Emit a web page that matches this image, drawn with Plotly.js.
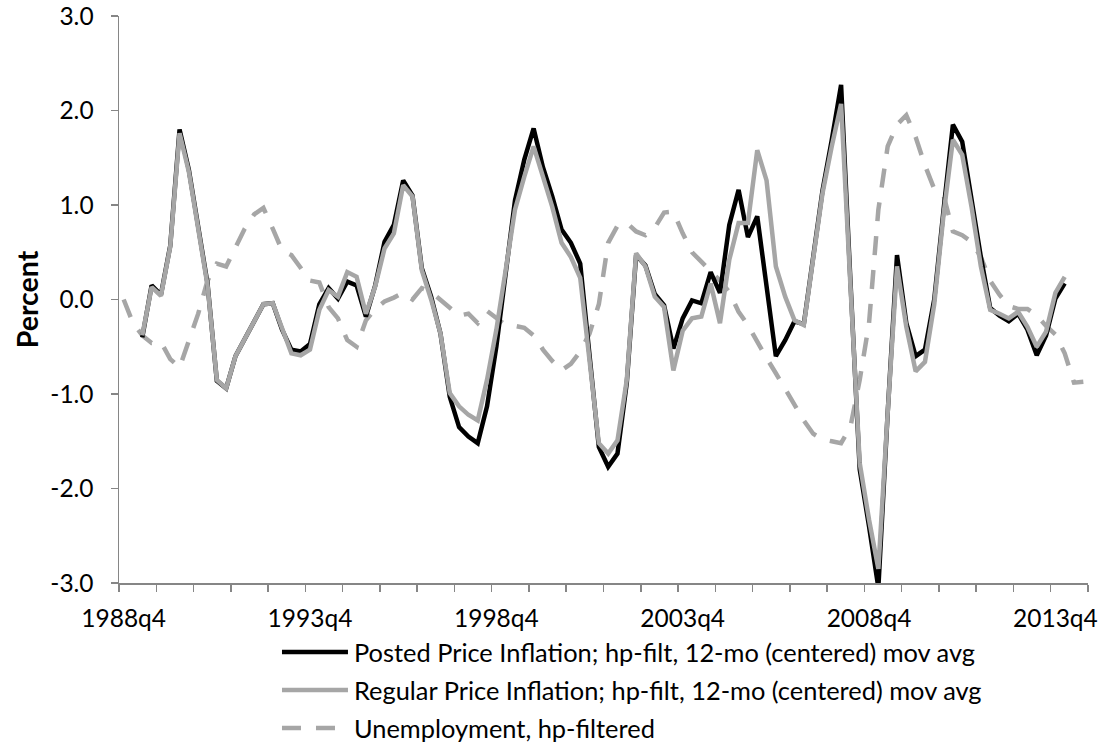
<!DOCTYPE html>
<html>
<head>
<meta charset="utf-8">
<script src="https://cdn.plot.ly/plotly-3.0.1.min.js"></script>
<style>html,body{margin:0;padding:0;background:#fff;}#chart{width:1101px;height:742px;}</style>
</head>
<body>
<div id="chart"></div>
<script>
// Quarterly categories, 1988q4 .. 2014q3
const quarters = [];
for (let i = 0; i < 104; i++) {
  const m = 3 + i; // quarter number counted from 1988q1 (index 3 = q4)
  quarters.push((1988 + Math.floor(m / 4)) + 'q' + (m % 4 + 1));
}

const seriesNames = [
  'Posted Price Inflation; hp-filt, 12-mo (centered) mov avg',
  'Regular Price Inflation; hp-filt, 12-mo (centered) mov avg',
  'Unemployment, hp-filtered'
];

const postedInflation = [
  null, null, -0.40, 0.15, 0.05, 0.57, 1.80, 1.37, 0.77, 0.17,
  -0.86, -0.94, -0.60, -0.42, -0.25, -0.05, -0.04, -0.32, -0.53, -0.55,
  -0.47, -0.05, 0.12, 0.01, 0.19, 0.15, -0.18, 0.15, 0.61, 0.79,
  1.26, 1.10, 0.33, 0.03, -0.36, -1.03, -1.35, -1.45, -1.52, -1.13,
  -0.50, 0.28, 1.05, 1.48, 1.81, 1.40, 1.09, 0.74, 0.60, 0.38,
  -0.60, -1.56, -1.77, -1.63, -0.88, 0.47, 0.36, 0.06, -0.06, -0.52,
  -0.20, -0.01, -0.04, 0.29, 0.07, 0.79, 1.16, 0.66, 0.88, 0.17,
  -0.60, -0.43, -0.23, -0.26, 0.45, 1.15, 1.69, 2.27, 0.20, -1.80,
  -2.40, -3.05, -1.20, 0.47, -0.25, -0.60, -0.53, 0.00, 0.95, 1.85,
  1.67, 1.05, 0.45, -0.09, -0.17, -0.23, -0.15, -0.32, -0.59, -0.38,
  0.01, 0.17, null, null
];

const regularInflation = [
  null, null, -0.38, 0.13, 0.04, 0.56, 1.76, 1.35, 0.75, 0.15,
  -0.85, -0.94, -0.60, -0.42, -0.25, -0.05, -0.04, -0.32, -0.57, -0.59,
  -0.53, -0.11, 0.10, 0.03, 0.29, 0.24, -0.15, 0.14, 0.54, 0.70,
  1.21, 1.09, 0.31, 0.00, -0.36, -0.99, -1.13, -1.22, -1.28, -0.85,
  -0.32, 0.31, 0.95, 1.30, 1.62, 1.30, 0.98, 0.60, 0.45, 0.23,
  -0.60, -1.52, -1.63, -1.49, -0.85, 0.49, 0.35, 0.03, -0.08, -0.75,
  -0.33, -0.20, -0.18, 0.17, -0.25, 0.42, 0.81, 0.81, 1.58, 1.26,
  0.35, 0.03, -0.22, -0.27, 0.43, 1.12, 1.62, 2.07, 0.15, -1.73,
  -2.33, -2.85, -1.20, 0.35, -0.29, -0.76, -0.66, -0.05, 0.90, 1.69,
  1.53, 0.98, 0.35, -0.11, -0.15, -0.20, -0.13, -0.29, -0.50, -0.34,
  0.07, 0.24, null, null
];

const unemployment = [
  0.00, -0.25, -0.38, -0.46, -0.45, -0.63, -0.72, -0.42, -0.15, 0.20,
  0.38, 0.35, 0.55, 0.75, 0.90, 0.97, 0.75, 0.52, 0.47, 0.33,
  0.20, 0.18, -0.08, -0.20, -0.43, -0.50, -0.22, -0.10, -0.02, 0.02,
  0.07, 0.00, 0.12, 0.08, 0.00, -0.08, -0.17, -0.15, -0.25, -0.12,
  -0.20, -0.27, -0.28, -0.30, -0.38, -0.53, -0.65, -0.75, -0.68, -0.55,
  -0.36, -0.05, 0.60, 0.78, 0.81, 0.72, 0.68, 0.76, 0.92, 0.93,
  0.70, 0.50, 0.40, 0.30, 0.20, 0.08, -0.13, -0.27, -0.45, -0.62,
  -0.78, -0.95, -1.10, -1.28, -1.42, -1.48, -1.50, -1.52, -1.35, -0.85,
  -0.25, 0.95, 1.62, 1.85, 1.95, 1.72, 1.42, 1.17, 1.10, 0.72,
  0.68, 0.61, 0.45, 0.20, 0.05, -0.07, -0.10, -0.10, -0.17, -0.28,
  -0.37, -0.57, -0.88, -0.87
];

const xLabelQuarters = ['1988q4', '1993q4', '1998q4', '2003q4', '2008q4', '2013q4'];
const yTickValues = [-3, -2, -1, 0, 1, 2, 3];
const yTickLabels = ['-3.0', '-2.0', '-1.0', '0.0', '1.0', '2.0', '3.0'];

const xIdx = quarters.map((_, i) => i);
const FONT = 'Lato, Carlito, Calibri, sans-serif';
const AX = '#868686';
const GREY = '#a6a6a6';

const styles = [
  {color: '#000000', width: 4.5, dash: 'solid'},
  {color: GREY, width: 4.5, dash: 'solid'},
  {color: GREY, width: 4.5, dash: '19px,15px'}
];
const seriesData = [postedInflation, regularInflation, unemployment];

const traces = seriesData.map((ys, s) => ({
  type: 'scatter', mode: 'lines', x: xIdx, y: ys, name: seriesNames[s],
  line: styles[s], connectgaps: false, hoverinfo: 'x+y', showlegend: false
}));
const ordered = [traces[2], traces[0], traces[1]];

// Legend drawn as shapes + annotations to match the Excel-style long legend keys
const legendRowsY = [-0.1216, -0.1886, -0.2556];
const shapes = styles.map((st, s) => ({
  type: 'line', xref: 'paper', yref: 'paper',
  x0: 0.1682, x1: 0.2363, y0: legendRowsY[s], y1: legendRowsY[s],
  line: {color: st.color, width: st.width, dash: st.dash}
}));
const annotations = seriesNames.map((nm, s) => ({
  xref: 'paper', yref: 'paper', x: 0.2405, y: legendRowsY[s],
  xanchor: 'left', yanchor: 'middle', showarrow: false, text: nm,
  font: {family: FONT, size: 25.4, color: '#000'}
}));

const layout = {
  width: 1101, height: 742,
  margin: {l: 119, r: 13, t: 16, b: 159},
  paper_bgcolor: '#fff', plot_bgcolor: '#fff',
  showlegend: false,
  font: {family: FONT, color: '#000'},
  xaxis: {
    type: 'linear', range: [-0.5, 103.5],
    tickmode: 'array',
    tickvals: xLabelQuarters.map(q => quarters.indexOf(q)),
    ticktext: xLabelQuarters,
    ticks: '', ticklabelstandoff: 13,
    tickfont: {family: FONT, size: 24.5, color: '#000'},
    showline: true, linecolor: AX, linewidth: 1.5,
    showgrid: false, zeroline: false,
    minor: {ticks: 'outside', tickmode: 'linear', tick0: -0.5, dtick: 4,
            ticklen: 7, tickwidth: 1.5, tickcolor: AX, showgrid: false}
  },
  yaxis: {
    range: [-3, 3], tickmode: 'array', tickvals: yTickValues, ticktext: yTickLabels,
    ticks: 'outside', ticklen: 7, tickwidth: 1.5, tickcolor: AX,
    ticklabelstandoff: 12,
    tickfont: {family: FONT, size: 24.5, color: '#000'},
    showline: true, linecolor: AX, linewidth: 1.5,
    showgrid: false, zeroline: false,
    title: {text: 'Percent', standoff: 3, font: {family: FONT, size: 28.5, weight: 'bold', color: '#000'}}
  },
  shapes: shapes,
  annotations: annotations
};

Plotly.newPlot('chart', ordered, layout, {displayModeBar: false, staticPlot: true});
</script>
</body>
</html>
